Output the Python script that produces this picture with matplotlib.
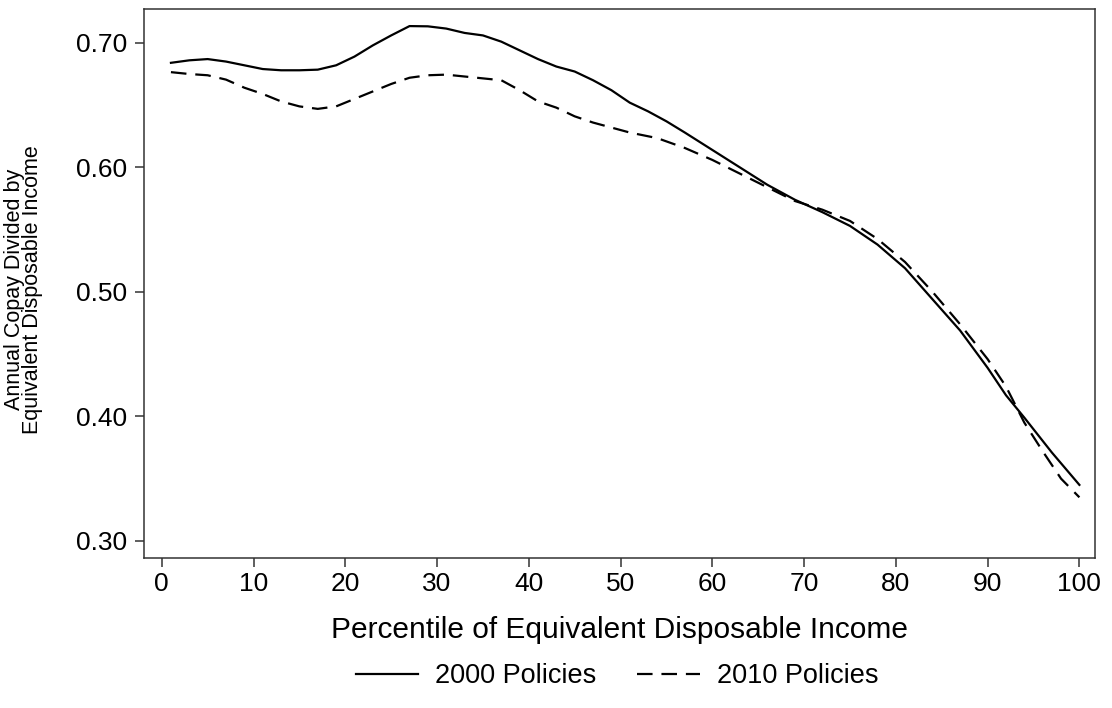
import matplotlib
matplotlib.use("Agg")
from matplotlib import pyplot as plt

plt.rcParams['font.family'] = ['Liberation Sans', 'DejaVu Sans']

# percentile of equivalent disposable income
pct_2000 = [1, 3, 5, 7, 9, 11, 13, 15, 17, 19, 21, 23, 25, 27, 29, 31, 33, 35, 37, 39,
            41, 43, 45, 47, 49, 51, 53, 55, 57, 60, 63, 66, 69, 72, 75, 78, 81, 84, 87,
            90, 92, 94, 97, 100]
copay_2000 = [0.684, 0.686, 0.687, 0.685, 0.682, 0.679, 0.678, 0.678, 0.6785, 0.682,
              0.689, 0.698, 0.706, 0.7135, 0.7133, 0.7115, 0.708, 0.706, 0.701, 0.694,
              0.687, 0.681, 0.677, 0.670, 0.662, 0.652, 0.645, 0.637, 0.628, 0.614,
              0.600, 0.586, 0.574, 0.564, 0.553, 0.538, 0.519, 0.494, 0.469, 0.439,
              0.417, 0.399, 0.371, 0.345]

pct_2010 = [1, 3, 5, 7, 9, 11, 13, 15, 17, 19, 21, 23, 25, 27, 29, 31, 33, 35, 37, 39,
            41, 43, 45, 47, 49, 51, 54, 57, 60, 63, 66, 69, 72, 75, 78, 81, 84, 87, 90,
            92, 94, 96, 98, 100]
copay_2010 = [0.6765, 0.675, 0.674, 0.6705, 0.664, 0.659, 0.653, 0.649, 0.647, 0.649,
              0.655, 0.661, 0.667, 0.672, 0.674, 0.6745, 0.673, 0.6715, 0.670, 0.662,
              0.653, 0.648, 0.641, 0.636, 0.632, 0.628, 0.6235, 0.6156, 0.606, 0.595,
              0.584, 0.573, 0.566, 0.557, 0.5425, 0.524, 0.500, 0.474, 0.446, 0.424,
              0.395, 0.372, 0.350, 0.335]

xticks = list(range(0, 101, 10))
yticks = [0.30, 0.40, 0.50, 0.60, 0.70]

fig = plt.figure(figsize=(11.12, 7.08), dpi=100)
ax = fig.add_axes([0.1298, 0.2114, 0.8549, 0.7755])

ax.plot(pct_2000, copay_2000, color='black', lw=1.6, label='2000 Policies')
ax.plot(pct_2010, copay_2010, color='black', lw=1.6, linestyle=(0, (7, 4)),
        label='2010 Policies')

ax.set_xlim(-1.9, 101.7)
ax.set_ylim(0.286, 0.727)
ax.set_xticks(xticks)
ax.set_yticks(yticks)
ax.set_yticklabels([f"{v:.2f}" for v in yticks])

for sp in ax.spines.values():
    sp.set_linewidth(1.1)
    sp.set_color('#333333')
ax.tick_params(direction='out', length=6.5, width=1.1, labelsize=19, color='#333333')
ax.tick_params(axis='y', pad=6)
ax.tick_params(axis='x', pad=3)

ax.set_xlabel('Percentile of Equivalent Disposable Income', fontsize=21.5, labelpad=15)
ax.set_ylabel('Annual Copay Divided by\nEquivalent Disposable Income',
              fontsize=15.5, linespacing=0.8)
ax.yaxis.set_label_coords(-0.1066, 0.49)

fig.legend(loc='center', bbox_to_anchor=(0.555, 0.045), ncol=2, frameon=False,
           fontsize=19.5, handlelength=2.3, columnspacing=1.5, handletextpad=0.63)

plt.savefig('out.png', dpi=100)
